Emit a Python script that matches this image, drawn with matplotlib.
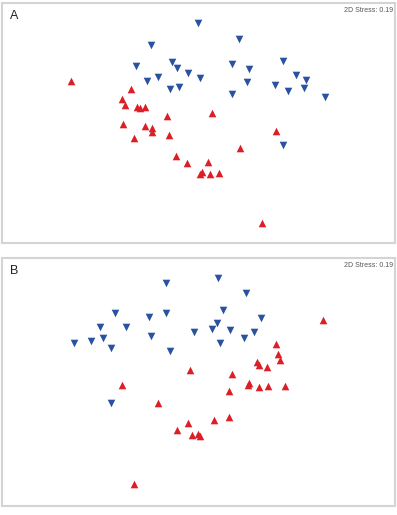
import matplotlib
matplotlib.use("Agg")
import matplotlib.pyplot as plt

# NMDS coordinates, panel A
a_blue_x = [0.00, -0.47, -0.62, -0.26, -0.21, -0.10, 0.02, -0.51, -0.40, -0.28, -0.19, 0.41,
            0.34, 0.51, 0.85, 0.98, 1.08, 0.49, 0.77, 0.90, 1.06, 0.34, 1.27, 0.85]
a_blue_y = [1.00, 0.78, 0.57, 0.61, 0.55, 0.50, 0.45, 0.42, 0.46, 0.34, 0.36, 0.84,
            0.59, 0.54, 0.62, 0.48, 0.43, 0.41, 0.38, 0.32, 0.35, 0.29, 0.26, -0.22]
a_red_x = [-1.27, -0.67, -0.76, -0.73, -0.61, -0.58, -0.53, -0.31, -0.75, -0.53, -0.46, -0.46,
           -0.64, -0.29, -0.22, -0.11, 0.14, 0.78, 0.42, 0.10, 0.02, 0.04, 0.12, 0.21, 0.64]
a_red_y = [0.42, 0.34, 0.24, 0.18, 0.16, 0.15, 0.16, 0.07, -0.01, -0.03, -0.05, -0.09,
           -0.15, -0.12, -0.33, -0.40, 0.10, -0.08, -0.25, -0.39, -0.51, -0.49, -0.51, -0.50, -1.00]

# NMDS coordinates, panel B
b_blue_x = [-0.32, -0.83, -0.49, -0.32, -0.98, -0.72, -0.47, -0.04, -1.24, -1.07, -0.95, -0.87,
            -0.28, -0.87, 0.20, 0.48, 0.25, 0.63, 0.19, 0.14, 0.32, 0.56, 0.46, 0.22]
b_blue_y = [0.99, 0.69, 0.65, 0.69, 0.55, 0.55, 0.46, 0.50, 0.39, 0.41, 0.44, 0.34,
            0.31, -0.21, 1.04, 0.89, 0.72, 0.64, 0.59, 0.53, 0.52, 0.50, 0.44, 0.39]
b_red_x = [-0.08, -0.76, -0.40, -0.10, -0.21, -0.06, 0.00, 0.02, -0.64, 1.25, 0.78, 0.80,
           0.82, 0.59, 0.61, 0.69, 0.34, 0.51, 0.50, 0.61, 0.70, 0.87, 0.31, 0.31, 0.16]
b_red_y = [0.12, -0.03, -0.21, -0.41, -0.48, -0.53, -0.52, -0.54, -1.02, 0.62, 0.38, 0.28,
           0.22, 0.20, 0.17, 0.15, 0.08, -0.01, -0.03, -0.05, -0.04, -0.04, -0.09, -0.35, -0.38]

stress = "2D Stress: 0.19"
blue = "#2a52a0"
red = "#dc1f26"

fig = plt.figure(figsize=(3.97, 5.15), dpi=100)

panels = [
    ("A", [0.005, 0.528, 0.990, 0.466], (-1.2, 1.2), a_blue_x, a_blue_y, a_red_x, a_red_y),
    ("B", [0.005, 0.0175, 0.990, 0.4816], (-1.24, 1.24), b_blue_x, b_blue_y, b_red_x, b_red_y),
]

for label, rect, ylim, bx, by, rx, ry in panels:
    ax = fig.add_axes(rect)
    ax.scatter(bx, by, marker="v", s=30, color=blue, linewidths=0)
    ax.scatter(rx, ry, marker="^", s=30, color=red, linewidths=0)
    ax.set_xlim(-1.96, 1.97)
    ax.set_ylim(*ylim)
    ax.set_xticks([])
    ax.set_yticks([])
    for sp in ax.spines.values():
        sp.set_color("#d4d4d4")
        sp.set_linewidth(1.5)
    ax.text(0.02, 0.97, label, transform=ax.transAxes, ha="left", va="top",
            fontsize=9, color="#222222", family="Liberation Sans")
    ax.text(0.995, 0.985, stress, transform=ax.transAxes, ha="right", va="top",
            fontsize=5, color="#555555", family="Liberation Sans")

fig.savefig("out.png", dpi=100)
